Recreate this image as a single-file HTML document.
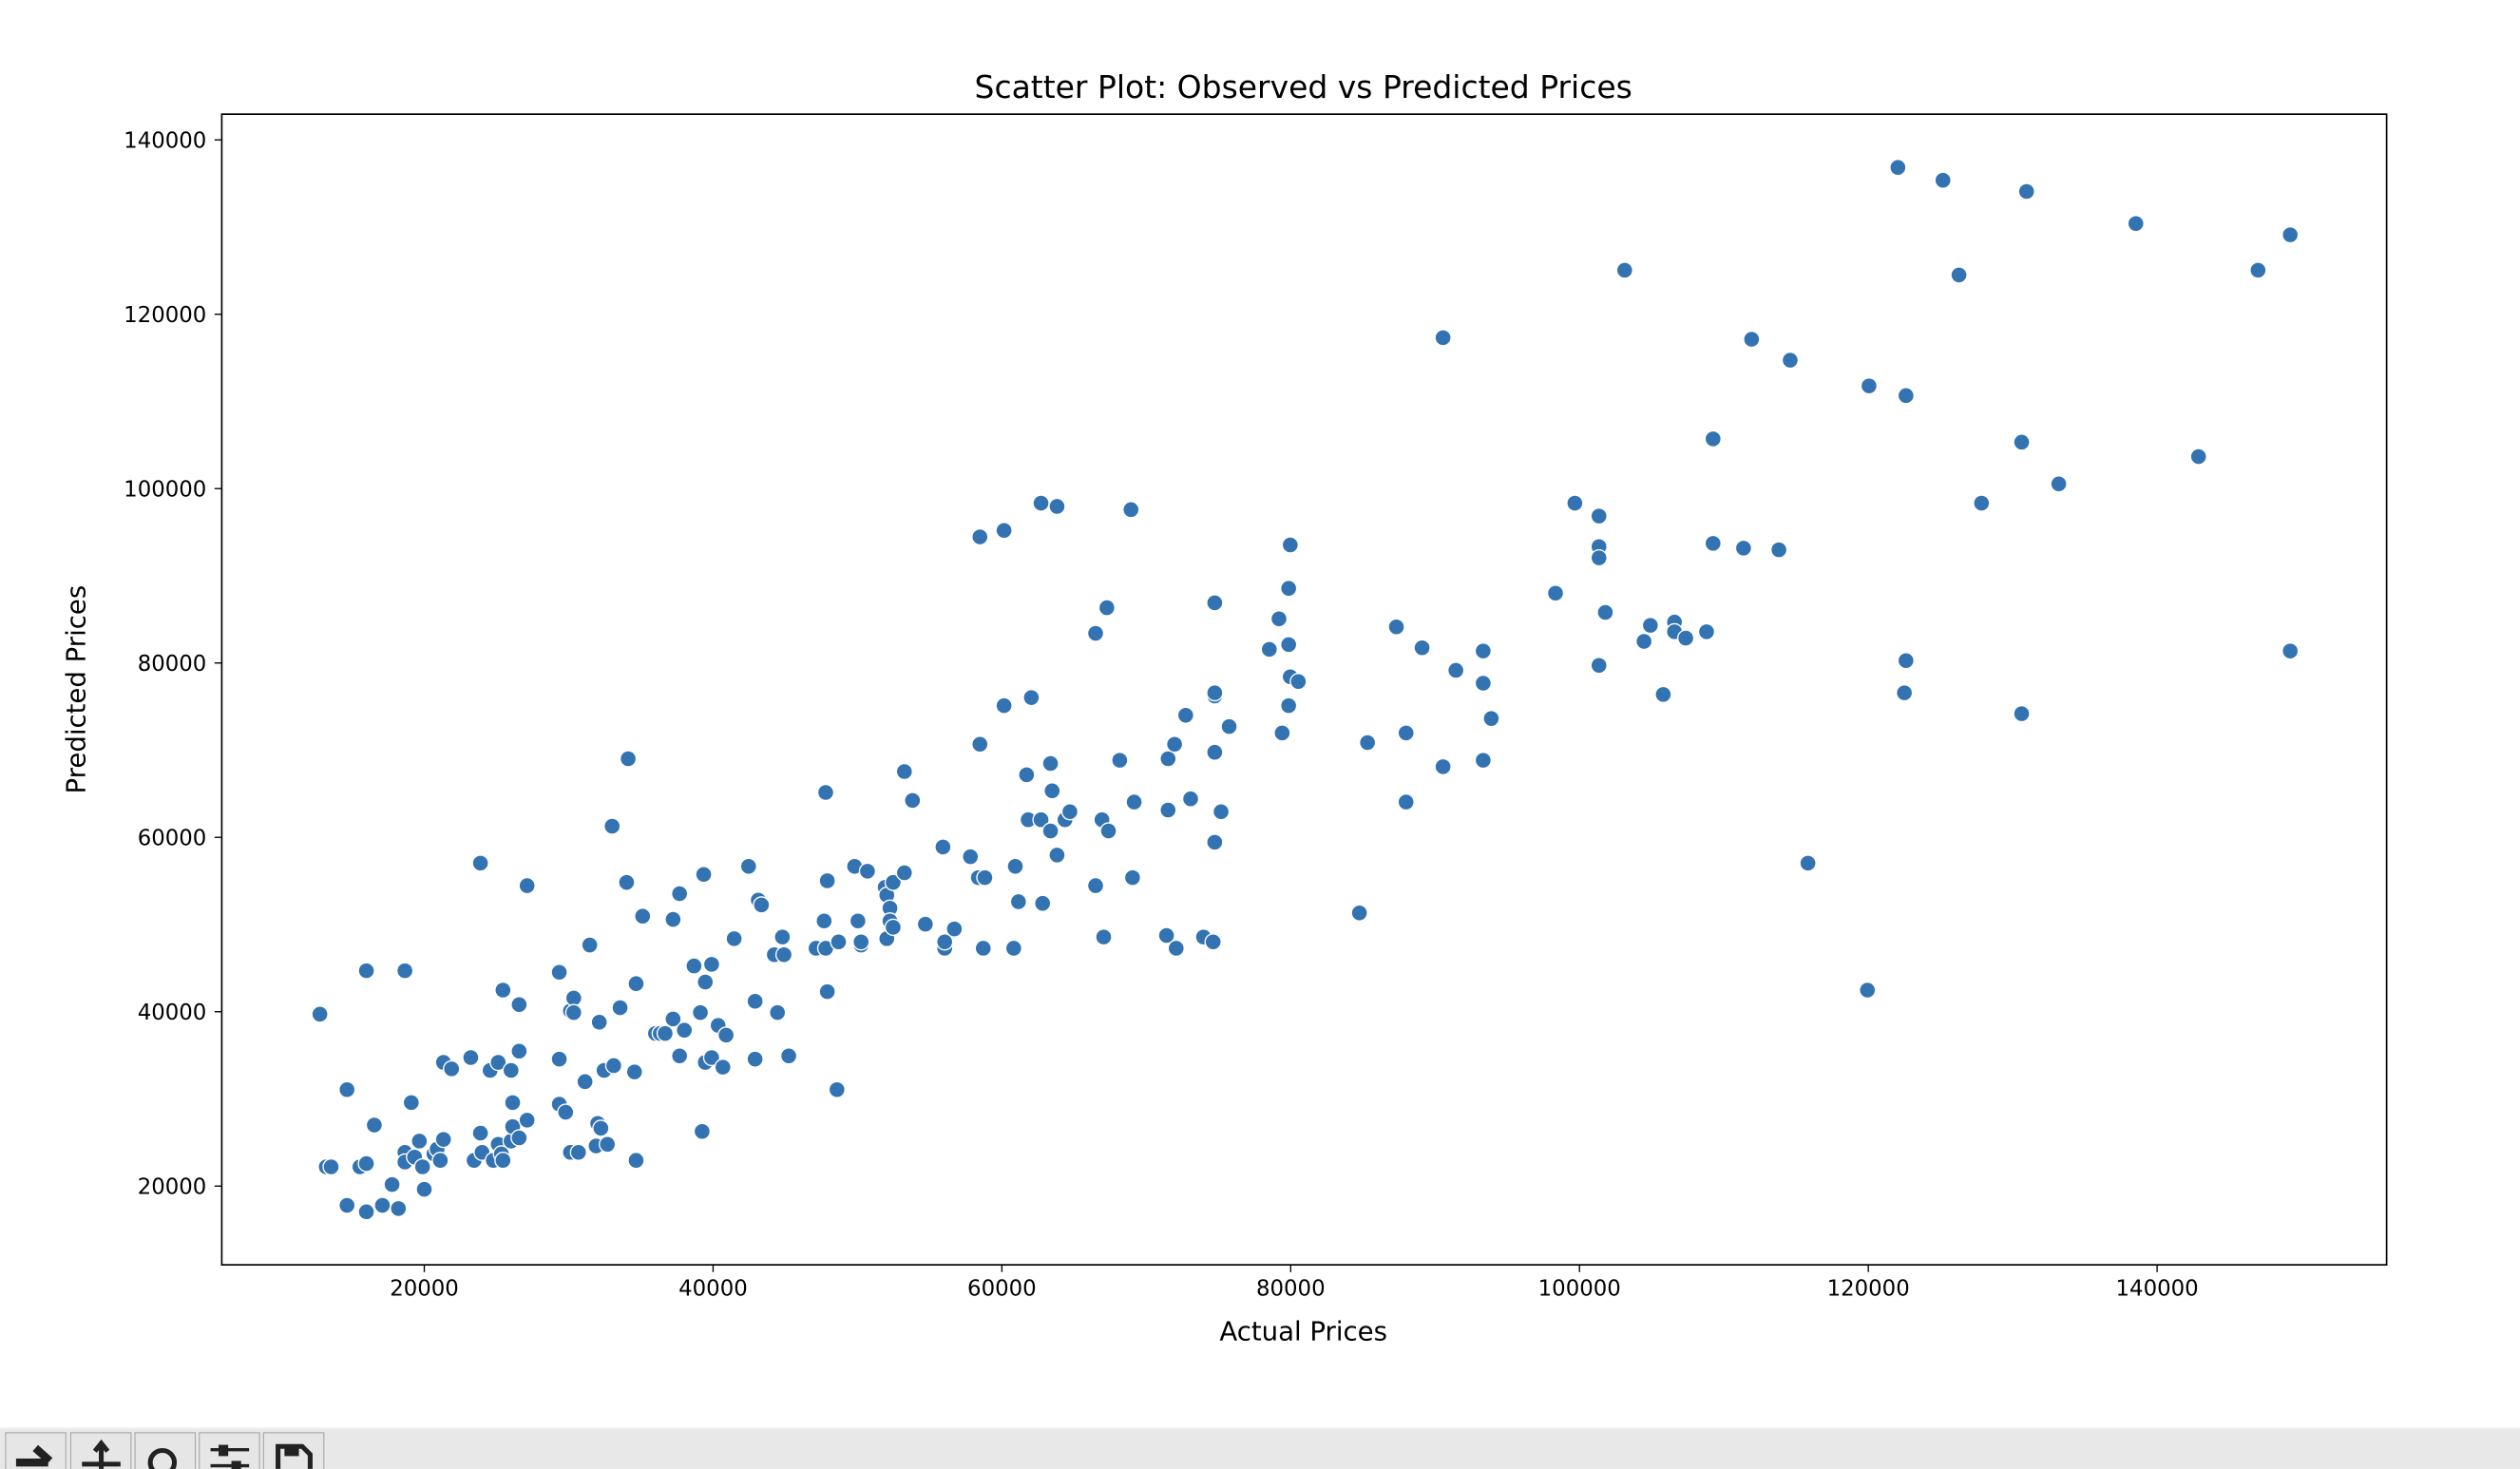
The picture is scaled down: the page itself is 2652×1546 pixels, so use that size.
<!DOCTYPE html>
<html><head><meta charset="utf-8"><style>
html,body{margin:0;padding:0;background:#fff;overflow:hidden}
svg{display:block}
text{font-family:"DejaVu Sans","Liberation Sans",sans-serif;fill:#000}
</style></head><body>
<svg id="chart" width="2652" height="1546" viewBox="0 0 1568 914" xmlns="http://www.w3.org/2000/svg">
<rect x="0" y="0" width="1568" height="914" fill="#fff"/>
<text x="811" y="61" font-size="19.5" text-anchor="middle">Scatter Plot: Observed vs Predicted Prices</text>
<rect x="138" y="71" width="1347" height="716" fill="none" stroke="#000" stroke-width="1"/>
<g id="xticks"></g>
<g id="yticks"></g>
<g id="points"></g>
<text x="811" y="834" font-size="16.3" text-anchor="middle">Actual Prices</text>
<text x="0" y="0" font-size="16.3" text-anchor="middle" transform="translate(53,429) rotate(-90)">Predicted Prices</text>
<g>
<rect x="0" y="889" width="1568" height="25" fill="#e8e8e8"/>
<rect x="0" y="888" width="1568" height="1" fill="#f2f2f2"/>
<rect x="3.5" y="891.5" width="37.5" height="30" fill="#e6e6e6" stroke="#aaa" stroke-width="0.7"/>
<path d="M10 910 L30 910 M22 901 L31 909" fill="none" stroke="#222" stroke-width="5"/>
<rect x="44" y="891.5" width="37.5" height="30" fill="#e6e6e6" stroke="#aaa" stroke-width="0.7"/>
<path d="M63 900 L63 914 M51 911 L75 911 M59 903 L63 898 L67 903" fill="none" stroke="#222" stroke-width="3"/>
<rect x="84" y="891.5" width="37.5" height="30" fill="#e6e6e6" stroke="#aaa" stroke-width="0.7"/>
<circle cx="101" cy="910" r="7.5" fill="none" stroke="#222" stroke-width="3"/>
<rect x="124" y="891.5" width="37.5" height="30" fill="#e6e6e6" stroke="#aaa" stroke-width="0.7"/>
<path d="M131 902 L155 902 M131 912 L155 912" stroke="#222" stroke-width="2"/>
<rect x="136" y="899" width="6" height="7" fill="#222"/><rect x="144" y="909" width="6" height="6" fill="#222"/>
<rect x="164" y="891.5" width="37.5" height="30" fill="#e6e6e6" stroke="#aaa" stroke-width="0.7"/>
<path d="M173 914 L173 900 L188 900 L193 905 L193 914" fill="none" stroke="#222" stroke-width="3"/>
<rect x="177" y="900" width="9" height="6" fill="#222"/>
</g>
</svg>
<script>
const xTickValues = [20000, 40000, 60000, 80000, 100000, 120000, 140000];
const xTickLabels = ["20000", "40000", "60000", "80000", "100000", "120000", "140000"];
const yTickValues = [20000, 40000, 60000, 80000, 100000, 120000, 140000];
const yTickLabels = ["20000", "40000", "60000", "80000", "100000", "120000", "140000"];
const actualPrices = [12770,13210,13550,14650,14650,15540,15990,15990,15990,16540,17100,17770,18210,18660,18660,18660,19100,19330,19660,19880,20000,20670,20890,21110,21330,21330,21890,23220,23450,23890,23890,24000,24560,24780,25120,25120,25340,25450,25450,26010,26010,26120,26120,26570,26570,26570,27120,27120,29350,29350,29350,29790,30120,30120,30350,30350,30680,31130,31460,31900,32010,32120,32230,32450,32680,33010,33120,33560,34010,34120,34560,34670,34670,35120,36010,36340,36680,37230,37230,37680,37680,38010,38680,39120,39240,39350,39460,39460,39900,39900,40350,40680,40900,41460,42460,42910,42910,43130,43350,44240,44460,44800,44910,45240,47130,47690,47800,47800,47910,47910,48580,48690,49800,50030,50250,50250,50690,51920,52030,52030,52250,52250,52470,52470,53250,53250,53810,54700,55920,56040,56040,56710,57820,58370,58480,58480,58710,58820,60150,60150,60820,60930,61150,61710,61820,62040,62710,62710,62820,63370,63370,63480,63820,63820,64370,64710,66490,66490,66930,67050,67270,67380,68160,68940,69160,69050,71400,71510,71510,71960,72070,72730,73070,73960,74630,74740,74740,74740,74740,74740,75180,75740,78520,79190,79410,79860,79860,79860,79970,79970,80530,84760,85320,87320,87990,87990,89100,90550,90550,91440,93330,93330,93330,93890,98340,99680,101350,101350,101350,101350,101790,103130,104470,104910,105800,106580,106580,107360,108800,109250,109250,111360,111920,113810,114590,115820,119940,120050,122050,122500,122610,122610,125170,126280,127840,130620,130620,130960,133190,138530,142870,146990,149220,149220];
const predictedPrices = [39720,22210,22210,31060,17790,22210,44700,22580,17050,27000,17790,20180,17420,44700,23870,22760,29580,23320,25160,22210,19630,23690,24240,22950,25350,34190,33450,34740,22950,57040,26080,23870,33270,22950,34190,24790,23690,42480,22950,25160,33270,29580,26820,40820,35480,25530,54460,27560,44520,34560,29400,28470,40090,23870,41570,39900,23870,31980,47650,24600,27190,38800,26630,33270,24790,61280,33820,40460,54830,69020,33090,43220,22950,50960,37510,37510,37510,50590,39170,34930,53540,37880,45250,39900,26270,55750,43400,34190,45430,34740,38430,33640,37320,48380,56670,34560,41200,52800,52250,46540,39900,48570,46540,34930,47280,50410,65150,47280,42300,55020,31060,48010,56670,50410,47650,48010,56120,54280,48380,53360,51880,50410,54830,49680,55940,67550,64230,50040,58890,47280,48010,49490,57780,55380,70680,94460,47280,55380,95200,75110,47280,56670,52620,67180,62020,76030,98330,62020,52430,68470,60730,65340,97960,57970,62020,62940,83400,54460,62020,48570,86340,60730,68840,97590,64050,55380,48750,69020,63130,70680,47280,74000,64420,48570,48010,86900,76210,76580,69760,59440,62940,72710,81560,85060,71970,88560,82110,75110,93540,78420,77870,51330,70870,84140,71970,64050,81740,117310,68100,79160,81370,77680,68840,73630,88010,98330,96850,93350,92060,79720,85800,125050,82480,84320,76390,84690,83580,82850,83580,105700,93720,93170,117130,92980,114730,57040,42480,111780,136840,76580,80270,110670,135370,124500,98330,105330,74180,134080,100540,130400,103670,125050,129110,81370];

const NS = "http://www.w3.org/2000/svg";
function xScale(v){ return 84.3 + v * 179.7 / 20000; }
function yScale(v){ return 738 - (v - 20000) * 108.5 / 20000; }
function mk(tag, attrs, parent){ const e = document.createElementNS(NS, tag); for (const k in attrs) e.setAttribute(k, attrs[k]); parent.appendChild(e); return e; }

const gx = document.getElementById('xticks');
xTickValues.forEach((v, i) => {
  const x = xScale(v);
  mk('line', {x1:x, x2:x, y1:787, y2:791.5, stroke:'#000', 'stroke-width':0.8}, gx);
  const t = mk('text', {x:x, y:806, 'font-size':13.5, 'text-anchor':'middle'}, gx);
  
  
  t.textContent = xTickLabels[i];
});
const gy = document.getElementById('yticks');
yTickValues.forEach((v, i) => {
  const y = yScale(v);
  mk('line', {x1:133.5, x2:138, y1:y, y2:y, stroke:'#000', 'stroke-width':0.8}, gy);
  const t = mk('text', {x:128.5, y:y + 4.8, 'font-size':13.5, 'text-anchor':'end'}, gy);
  
  
  t.textContent = yTickLabels[i];
});
const gp = document.getElementById('points');
actualPrices.forEach((a, i) => {
  const c = mk('circle', {cx:xScale(a), cy:yScale(predictedPrices[i]), r:5, fill:'#3373b2', stroke:'#fff', 'stroke-width':0.8}, gp);
  
  
});
</script>
</body></html>
